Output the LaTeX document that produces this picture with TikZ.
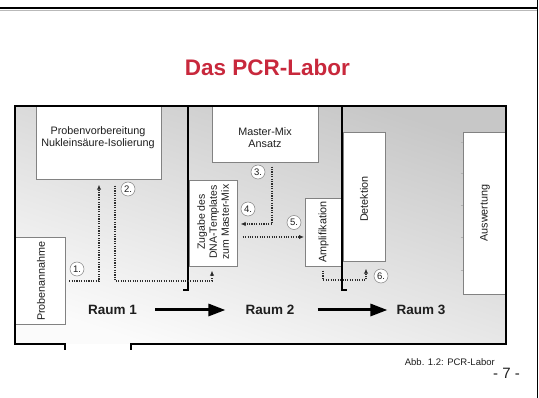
\documentclass[tikz,border=0pt]{standalone}
\usepackage{fontspec}
\setmainfont{Liberation Sans}
\usetikzlibrary{arrows.meta,calc}
\definecolor{titlered}{RGB}{200,40,60}
\definecolor{txt}{RGB}{30,30,30}
\definecolor{boxline}{RGB}{130,130,130}
\definecolor{flowc}{RGB}{45,45,45}
\begin{document}
\begin{tikzpicture}[x=1pt,y=-1pt,
  wall/.style={line width=1.4pt, black},
  roombox/.style={draw=boxline, line width=0.7pt, fill=white, inner sep=0pt, anchor=north west},
  boxtext/.style={font=\fontsize{10.8}{11.5}\selectfont, text=txt, align=center, inner sep=0pt},
  flow/.style={draw=flowc, line width=1.1pt, dash pattern=on 1.1pt off 1.3pt},
  flowarrow/.style={flow, -{Latex[length=5pt,width=4.5pt]}},
  stepnum/.style={circle, draw=boxline, line width=0.5pt, fill=white, inner sep=0.5pt, minimum size=14pt, font=\fontsize{9.5}{10}\selectfont, text=txt},
  raum/.style={font=\fontsize{13.5}{14}\selectfont\bfseries, text=txt, inner sep=0pt},
  bigarrow/.style={line width=3pt, -{Triangle[length=17pt,width=12pt]}}
]
\useasboundingbox (0,0) rectangle (539,398);
% slide frame
\draw[gray!55, line width=1pt] (0,10.3) -- (537,10.3);
\draw[line width=1.4pt] (0,8) -- (537.5,8);
\draw[line width=1.4pt] (537.5,0) -- (537.5,398);
% title
\node[font=\fontsize{22.5}{24}\selectfont\bfseries, text=titlered, anchor=base, inner sep=0pt] (title) at (267.5,76) {Das PCR-Labor};
% floor
\shade[shading=axis, top color=gray!44, bottom color=gray!3, shading angle=-18] (15,106) rectangle (506,344);
% boxes
\node[roombox, minimum width=125pt, minimum height=73pt] (pv) at (36,106) {};
\node[boxtext] (pvt) at (98,137.5) {Probenvorbereitung\\Nukleinsäure-Isolierung};
\node[roombox, minimum width=106pt, minimum height=56pt] (mm) at (212,106) {};
\node[boxtext] (mmt) at (265,137.5) {Master-Mix\\Ansatz};
\node[roombox, minimum width=48pt, minimum height=86pt] (zg) at (189,180) {};
\node[boxtext, rotate=90, font=\fontsize{10.5}{12}\selectfont] (zgt) at (213,222) {Zugabe des\\DNA-Templates\\zum Master-Mix};
\node[roombox, minimum width=37pt, minimum height=68pt] (am) at (305,198) {};
\node[boxtext, rotate=90] (amt) at (323.5,232) {Amplifikation};
\node[roombox, minimum width=42pt, minimum height=129pt] (de) at (343,132) {};
\node[boxtext, rotate=90] (det) at (364,199) {Detektion};
\node[roombox, minimum width=43pt, minimum height=162pt] (au) at (463,132) {};
\node[boxtext, rotate=90] (aut) at (485,213) {Auswertung};
\node[roombox, minimum width=49.5pt, minimum height=87pt] (pa) at (15,237) {};
\node[boxtext, rotate=90] (pat) at (41,281) {Probenannahme};
% ticks on Auswertung box
\foreach \yy in {142,173,205,237,270} \draw[gray!60, line width=0.5pt] (460.5,\yy) -- (au.west |- 0,\yy);
% walls
\draw[wall] (65,350) -- (65,344) -- (15,344) -- (15,106) -- (506,106) -- (506,344) -- (131,344) -- (131,350);
\draw[wall] (188,106) -- (188,290) -- (183,290);
\draw[wall] (342,106) -- (342,290) -- (347,290);
% flow connectors
\coordinate (b1) at (99,281);
\coordinate (b2a) at (115,281);
\coordinate (b2b) at (212,281);
\coordinate (b3) at (272,224);
\coordinate (b5) at (0,237);
\coordinate (b6a) at (323,280);
\coordinate (b6b) at (366,280);
\draw[flowarrow] ($(pa.east |- b1)+(4,0)$) -- (b1) -- ($(b1 |- pv.south)+(0,5)$);
\draw[flowarrow] ($(b2a |- pv.south)+(0,6)$) -- (b2a) -- (b2b) -- ($(b2b |- zg.south)+(0,4)$);
\draw[flowarrow] ($(b3 |- mm.south)+(0,4)$) -- (b3) -- ($(zg.east |- b3)+(3,0)$);
\draw[flowarrow] ($(zg.east |- b5)+(5,0)$) -- ($(am.west |- b5)+(-1,0)$);
\draw[flowarrow] ($(b6a |- am.south)+(0,4)$) -- (b6a) -- (b6b) -- ($(b6b |- de.south)+(0,7)$);
% step numbers
\node[stepnum] (s1) at (77,269) {1.};
\node[stepnum] (s2) at (128,189) {2.};
\node[stepnum] (s3) at (258,172) {3.};
\node[stepnum] (s4) at (248,209) {4.};
\node[stepnum] (s5) at (294,222.5) {5.};
\node[stepnum] (s6) at (381,276) {6.};
% rooms
\node[raum] (r1) at (112.5,310) {Raum 1};
\node[raum] (r2) at (270,310) {Raum 2};
\node[raum] (r3) at (421,310) {Raum 3};
\draw[bigarrow] ($(r1.east)+(18,0)$) -- ($(r2.west)+(-20,0)$);
\draw[bigarrow] ($(r2.east)+(23,0)$) -- ($(r3.west)+(-9,0)$);
% captions
\node[font=\fontsize{9.5}{10}\selectfont, text=txt, anchor=base east, inner sep=0pt] (cap) at (495,366) {Abb. 1.2: PCR-Labor};
\node[font=\fontsize{15}{16}\selectfont, text=txt, anchor=base, inner sep=0pt] (pg) at (506.5,379) {- 7 -};
\end{tikzpicture}
\end{document}
